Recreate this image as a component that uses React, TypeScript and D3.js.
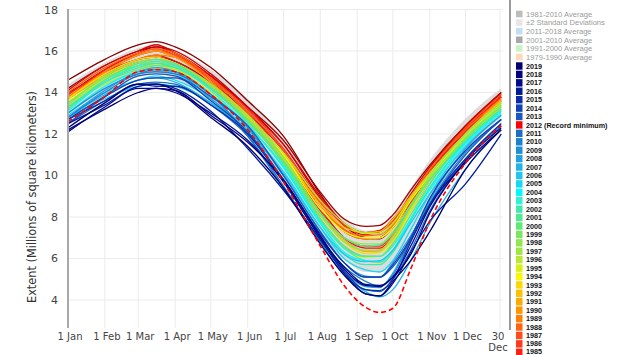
import React from "react";
import * as d3 from "d3";

const DAYS = [0, 31, 59, 74, 90, 120, 151, 181, 212, 232, 250, 262, 273, 288, 304, 334, 364];

const YEARS = [
  1979, 1980, 1981, 1982, 1983, 1984, 1985, 1986, 1987, 1988, 1989, 1990, 1991, 1992, 1993, 1994,
  1995, 1996, 1997, 1998, 1999, 2000, 2001, 2002, 2003, 2004, 2005, 2006, 2007, 2008, 2009, 2010,
  2011, 2012, 2013, 2014, 2015, 2016, 2017, 2018, 2019,
];

const EXTENT: number[][] = [
  [14.6, 15.6, 16.3, 16.45, 16.2, 15.2, 13.6, 11.9, 9.1, 7.6, 7.0, 6.95, 7.5, 8.8, 10.3, 12.3, 14.0],
  [14.2, 15.3, 16.0, 16.2, 15.9, 14.8, 13.3, 11.7, 9.2, 7.9, 7.55, 7.6, 8.1, 9.3, 10.5, 12.4, 13.9],
  [14.0, 14.9, 15.6, 15.7, 15.5, 14.5, 13.0, 11.2, 8.6, 7.3, 6.95, 7.0, 7.6, 8.9, 10.3, 12.2, 13.8],
  [13.9, 15.1, 15.9, 16.2, 16.0, 14.9, 13.3, 11.5, 8.9, 7.6, 7.15, 7.3, 7.8, 9.1, 10.4, 12.4, 14.0],
  [14.1, 15.3, 16.0, 16.3, 15.9, 14.8, 13.2, 11.5, 9.0, 7.7, 7.25, 7.35, 7.9, 9.0, 10.2, 12.2, 13.8],
  [13.9, 15.0, 15.6, 15.8, 15.5, 14.4, 12.9, 11.0, 8.4, 7.0, 6.5, 6.5, 7.1, 8.6, 10.0, 12.1, 13.6],
  [13.7, 15.1, 15.9, 16.1, 15.8, 14.7, 13.0, 10.9, 8.3, 7.0, 6.6, 6.6, 7.2, 8.7, 10.1, 12.2, 13.8],
  [13.9, 15.0, 15.8, 16.0, 15.7, 14.7, 13.2, 11.3, 8.8, 7.6, 7.2, 7.3, 7.8, 9.0, 10.2, 12.0, 13.6],
  [13.7, 15.0, 15.8, 16.0, 15.8, 14.6, 13.1, 11.2, 8.7, 7.4, 7.0, 7.0, 7.6, 8.9, 10.3, 12.3, 13.9],
  [14.0, 15.2, 15.9, 16.1, 15.9, 14.7, 13.0, 11.0, 8.6, 7.4, 7.1, 7.15, 7.7, 9.0, 10.3, 12.2, 13.7],
  [13.8, 14.9, 15.6, 15.8, 15.7, 14.5, 12.9, 11.0, 8.6, 7.3, 6.95, 7.0, 7.6, 8.9, 10.1, 12.0, 13.6],
  [13.7, 15.0, 15.8, 16.0, 15.7, 14.5, 12.7, 10.6, 7.9, 6.6, 6.1, 6.1, 6.8, 8.4, 9.9, 12.0, 13.7],
  [13.7, 14.8, 15.4, 15.5, 15.3, 14.2, 12.7, 10.8, 8.1, 6.9, 6.35, 6.4, 7.1, 8.5, 9.9, 11.8, 13.4],
  [13.5, 14.7, 15.4, 15.5, 15.3, 14.3, 12.8, 11.0, 8.6, 7.5, 7.25, 7.3, 7.9, 9.0, 10.1, 12.0, 13.6],
  [13.7, 14.9, 15.6, 15.7, 15.4, 14.3, 12.6, 10.8, 8.1, 6.8, 6.25, 6.3, 7.0, 8.4, 9.8, 11.9, 13.5],
  [13.6, 14.7, 15.4, 15.6, 15.4, 14.4, 12.9, 11.0, 8.4, 7.3, 7.0, 7.0, 7.5, 8.8, 10.0, 11.9, 13.5],
  [13.5, 14.6, 15.2, 15.3, 15.1, 14.0, 12.4, 10.5, 7.8, 6.5, 6.05, 6.1, 6.8, 8.3, 9.8, 11.7, 13.3],
  [13.3, 14.4, 15.0, 15.2, 15.1, 14.2, 12.8, 11.1, 8.8, 7.7, 7.2, 7.2, 7.7, 8.9, 10.1, 11.9, 13.4],
  [13.4, 14.6, 15.3, 15.4, 15.2, 14.2, 12.7, 10.9, 8.2, 7.0, 6.7, 6.7, 7.3, 8.6, 9.9, 11.8, 13.4],
  [13.4, 14.8, 15.5, 15.6, 15.4, 14.4, 12.9, 10.9, 8.1, 6.8, 6.4, 6.4, 7.0, 8.5, 10.0, 12.0, 13.5],
  [13.5, 14.7, 15.3, 15.4, 15.3, 14.3, 12.7, 10.7, 7.9, 6.5, 5.9, 5.8, 6.4, 7.9, 9.6, 11.8, 13.3],
  [13.3, 14.5, 15.1, 15.3, 15.2, 14.2, 12.6, 10.6, 7.9, 6.6, 6.1, 6.1, 6.7, 8.1, 9.6, 11.7, 13.2],
  [13.2, 14.6, 15.4, 15.6, 15.4, 14.2, 12.6, 10.7, 8.2, 7.0, 6.6, 6.65, 7.2, 8.5, 9.8, 11.6, 13.2],
  [13.2, 14.5, 15.2, 15.4, 15.2, 14.2, 12.5, 10.4, 7.7, 6.2, 5.7, 5.7, 6.3, 7.8, 9.4, 11.6, 13.1],
  [13.1, 14.5, 15.3, 15.5, 15.3, 14.1, 12.4, 10.5, 7.8, 6.5, 6.1, 6.1, 6.6, 7.9, 9.3, 11.5, 13.0],
  [13.0, 14.3, 15.0, 15.1, 14.9, 13.9, 12.4, 10.4, 7.7, 6.3, 5.9, 5.85, 6.4, 7.9, 9.4, 11.6, 13.1],
  [12.9, 14.0, 14.6, 14.8, 14.6, 13.7, 12.2, 10.2, 7.5, 6.0, 5.45, 5.35, 5.9, 7.4, 9.1, 11.4, 12.9],
  [12.8, 13.7, 14.3, 14.4, 14.3, 13.5, 12.1, 10.1, 7.5, 6.2, 5.85, 5.9, 6.4, 7.7, 9.1, 11.2, 12.7],
  [12.8, 13.9, 14.6, 14.7, 14.5, 13.5, 12.0, 9.8, 7.0, 5.3, 4.4, 4.15, 4.5, 5.9, 7.7, 10.3, 12.4],
  [12.8, 14.1, 15.0, 15.2, 15.0, 13.7, 12.1, 9.8, 7.0, 5.4, 4.65, 4.6, 5.3, 7.0, 8.8, 11.3, 12.9],
  [13.0, 14.2, 14.9, 15.1, 15.0, 13.9, 12.3, 10.0, 7.3, 5.8, 5.15, 5.1, 5.8, 7.1, 8.7, 11.1, 12.7],
  [12.8, 14.0, 14.9, 15.0, 14.9, 13.9, 11.9, 9.4, 6.9, 5.6, 4.9, 4.65, 5.2, 6.9, 8.6, 10.8, 12.4],
  [12.5, 13.6, 14.4, 14.5, 14.4, 13.4, 11.9, 9.5, 6.8, 5.2, 4.5, 4.4, 5.0, 6.4, 8.3, 10.8, 12.5],
  [12.6, 13.8, 15.0, 15.1, 15.0, 13.9, 12.2, 9.7, 6.6, 4.7, 3.65, 3.4, 3.6, 5.5, 7.8, 10.6, 12.4],
  [12.5, 13.8, 14.8, 14.9, 14.8, 13.8, 12.4, 10.0, 7.3, 5.8, 5.1, 5.1, 5.6, 6.9, 8.6, 11.0, 12.7],
  [12.7, 13.8, 14.6, 14.7, 14.7, 13.6, 12.1, 9.8, 7.2, 5.8, 5.1, 5.1, 5.7, 7.0, 8.9, 11.2, 12.7],
  [12.7, 13.6, 14.4, 14.3, 14.3, 13.4, 12.0, 9.7, 7.0, 5.4, 4.5, 4.45, 5.0, 6.8, 8.6, 10.8, 12.5],
  [12.5, 13.4, 14.3, 14.4, 14.2, 13.1, 11.3, 9.3, 6.9, 5.3, 4.3, 4.2, 4.8, 6.3, 7.8, 9.6, 12.0],
  [12.1, 13.3, 14.2, 14.2, 14.0, 13.0, 11.7, 9.7, 7.0, 5.6, 4.75, 4.7, 5.1, 6.6, 8.5, 10.6, 12.2],
  [12.2, 13.2, 14.0, 14.2, 14.1, 12.9, 11.6, 9.8, 7.1, 5.5, 4.7, 4.65, 5.1, 6.2, 8.2, 10.7, 12.3],
  [12.3, 13.5, 14.4, 14.4, 14.1, 12.8, 11.4, 9.4, 6.7, 5.2, 4.3, 4.2, 4.9, 5.9, 7.3, 10.3, 12.2],
];

const YEAR_COLORS = [
  "#880000", "#a00000", "#b40000", "#c80000", "#e00000", "#f01000", "#ff2010", "#ff3820",
  "#ff4c18", "#ff6410", "#ff8000", "#ff9600", "#ffa800", "#ffc000", "#ffd700", "#f8f800",
  "#d8f010", "#b8e830", "#a0e840", "#90e850", "#78e860", "#60e878", "#50e890", "#40e8b0",
  "#30f0d8", "#00f8ff", "#18d6f6", "#20c6f0", "#22b4e8", "#22a2e0", "#1f90d8", "#1e80d0",
  "#1a6ec8", "#ff0000", "#1858c0", "#1040b4", "#0a2aa8", "#001a9a", "#000a8c", "#000080",
  "#00006e",
];

const AVG_1981_2010 = [13.7, 14.75, 15.45, 15.6, 15.35, 14.4, 12.9, 10.75, 8.05, 6.95, 6.35, 6.35, 6.95, 8.3, 9.75, 11.95, 13.5];
const STD_1981_2010 = [0.35, 0.35, 0.35, 0.35, 0.35, 0.35, 0.4, 0.5, 0.5, 0.5, 0.5, 0.5, 0.55, 0.55, 0.5, 0.4, 0.35];

const Y_TICKS = [4, 6, 8, 10, 12, 14, 16, 18];
const MONTH_DAYS = [0, 31, 59, 90, 120, 151, 181, 212, 243, 273, 304, 334];
const MONTH_LABELS = ["1 Jan", "1 Feb", "1 Mar", "1 Apr", "1 May", "1 Jun", "1 Jul", "1 Aug", "1 Sep", "1 Oct", "1 Nov", "1 Dec"];
const END_DAY = 363;

const AVG_LEGEND = [
  "1981-2010 Average",
  "±2 Standard Deviations",
  "2011-2018 Average",
  "2001-2010 Average",
  "1991-2000 Average",
  "1979-1990 Average",
];
const AVG_LEGEND_COLORS = ["#bdbdbd", "#e6e6e6", "#c4dcf4", "#a8a8a8", "#c8f4c4", "#fcd8bc"];
const LEGEND_YEARS = [
  2019, 2018, 2017, 2016, 2015, 2014, 2013, 2012, 2011, 2010, 2009, 2008, 2007, 2006, 2005, 2004,
  2003, 2002, 2001, 2000, 1999, 1998, 1997, 1996, 1995, 1994, 1993, 1992, 1991, 1990, 1989, 1988,
  1987, 1986, 1985,
];

export default function App() {
  const W = 632;
  const H = 355;
  const x = d3.scaleLinear().domain([0, 365]).range([68, 502.4]);
  const y = d3.scaleLinear().domain([2.65, 18]).range([328, 9.5]);

  const line = d3
    .line<number>()
    .x((_, i) => x(DAYS[i]))
    .y((v) => y(v))
    .curve(d3.curveMonotoneX);

  const band = d3
    .area<number>()
    .x((_, i) => x(DAYS[i]))
    .y0((v, i) => y(v - 2 * STD_1981_2010[i]))
    .y1((v, i) => y(v + 2 * STD_1981_2010[i]))
    .curve(d3.curveMonotoneX);

  const axisFont = "'DejaVu Sans', sans-serif";
  const legFont = "'Liberation Sans', Arial, sans-serif";
  const idx2012 = YEARS.indexOf(2012);
  const rowH = 8.42;

  return (
    <svg width={W} height={H} style={{ position: "absolute", left: 0, top: 0, background: "#fff" }}>
      <rect x={0} y={0} width={W} height={H} fill="#fff" />
      {Y_TICKS.map((t) => (
        <line key={"h" + t} x1={68} x2={503} y1={y(t)} y2={y(t)} stroke="#ebebeb" strokeWidth={1} />
      ))}
      {MONTH_DAYS.concat([END_DAY]).map((d) => (
        <line key={"v" + d} x1={x(d)} x2={x(d)} y1={y(18)} y2={328} stroke="#ebebeb" strokeWidth={1} />
      ))}
      <path d={band(AVG_1981_2010) || ""} fill="#dcdcdc" />
      <path d={line(AVG_1981_2010) || ""} fill="none" stroke="#aaaaaa" strokeWidth={1.2} />
      {EXTENT.map((vals, i) =>
        i === idx2012 ? null : (
          <path key={YEARS[i]} d={line(vals) || ""} fill="none" stroke={YEAR_COLORS[i]} strokeWidth={1.3} />
        )
      )}
      <path
        d={line(EXTENT[idx2012]) || ""}
        fill="none"
        stroke={YEAR_COLORS[idx2012]}
        strokeWidth={1.6}
        strokeDasharray="5,3"
      />
      <line x1={68} x2={68} y1={9} y2={328} stroke="#a8a8a8" strokeWidth={2} />
      {Y_TICKS.map((t) => (
        <text key={"yt" + t} x={58} y={y(t) + 4} textAnchor="end" fontSize={11} fill="#444" fontFamily={axisFont}>
          {t}
        </text>
      ))}
      <text
        transform={`translate(36,${197}) rotate(-90)`}
        textAnchor="middle"
        fontSize={12.5}
        fill="#333"
        fontFamily={axisFont}
        textLength={212}
        lengthAdjust="spacingAndGlyphs"
      >
        Extent (Millions of square kilometers)
      </text>
      {MONTH_DAYS.map((d, i) => (
        <text key={"xl" + d} x={x(d) + 2} y={340} textAnchor="middle" fontSize={10} fill="#444" fontFamily={axisFont}>
          {MONTH_LABELS[i]}
        </text>
      ))}
      <text x={x(END_DAY) - 2} y={340} textAnchor="middle" fontSize={10} fill="#444" fontFamily={axisFont}>
        30
      </text>
      <text x={x(END_DAY) - 2} y={351} textAnchor="middle" fontSize={10} fill="#444" fontFamily={axisFont}>
        Dec
      </text>
      <line x1={510} x2={510} y1={0} y2={330} stroke="#9a9a9a" strokeWidth={2} />
      {AVG_LEGEND.map((lab, i) => {
        const cy = 14 + i * 8.6;
        return (
          <g key={lab}>
            <rect x={516} y={cy - 3.3} width={6.5} height={6.6} fill={AVG_LEGEND_COLORS[i]} />
            <text x={526} y={cy + 2.7} fontSize={7.6} fill="#9a9a9a" fontFamily={legFont}>
              {lab}
            </text>
          </g>
        );
      })}
      {LEGEND_YEARS.map((yr, i) => {
        const cy = 66 + i * rowH;
        const ci = YEARS.indexOf(yr);
        return (
          <g key={"ly" + yr}>
            <rect x={516} y={cy - rowH / 2 + 0.5} width={6.5} height={rowH - 1} fill={YEAR_COLORS[ci]} />
            <text x={526} y={Math.min(cy + 2.6, 354)} fontSize={7.2} fontWeight="bold" fill="#111" fontFamily={legFont}>
              {yr === 2012 ? "2012 (Record minimum)" : String(yr)}
            </text>
          </g>
        );
      })}
    </svg>
  );
}
